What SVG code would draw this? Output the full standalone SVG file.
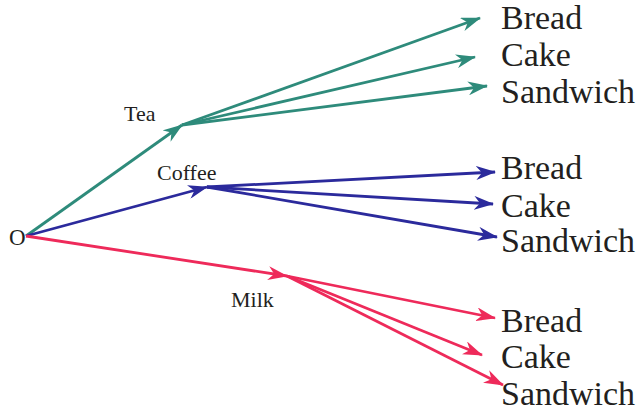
<svg xmlns="http://www.w3.org/2000/svg" width="638" height="411" viewBox="0 0 638 411">
<style>
text{font-family:"Liberation Serif","Times New Roman",serif;fill:#231f20}
.big{font-size:34px}
.small{font-size:22px}
.t{stroke:#2e8b7b;stroke-width:2.8;fill:none;marker-end:url(#mt)}
.b{stroke:#2b2a9c;stroke-width:2.8;fill:none;marker-end:url(#mb)}
.r{stroke:#ee2a5a;stroke-width:2.8;fill:none;marker-end:url(#mr)}
</style>
<defs>
<marker id="mt" viewBox="0 0 20 14" refX="19" refY="7" markerWidth="20" markerHeight="14" markerUnits="userSpaceOnUse" orient="auto"><path d="M0,0 L20,7 L0,14 L6,7 z" fill="#2e8b7b"/></marker>
<marker id="mb" viewBox="0 0 20 14" refX="19" refY="7" markerWidth="20" markerHeight="14" markerUnits="userSpaceOnUse" orient="auto"><path d="M0,0 L20,7 L0,14 L6,7 z" fill="#2b2a9c"/></marker>
<marker id="mr" viewBox="0 0 20 14" refX="19" refY="7" markerWidth="20" markerHeight="14" markerUnits="userSpaceOnUse" orient="auto"><path d="M0,0 L20,7 L0,14 L6,7 z" fill="#ee2a5a"/></marker>
</defs>
<g id="connectors">
<path class="t" d="M26,236 L182,125"/>
<path class="t" d="M182,125 L480,18"/>
<path class="t" d="M182,125 L475,57"/>
<path class="t" d="M182,125 L487,86"/>
<path class="b" d="M26,236 L207,187"/>
<path class="b" d="M207,187 L495,172"/>
<path class="b" d="M207,187 L493,204"/>
<path class="b" d="M207,187 L497,237"/>
<path class="r" d="M26,236 L287,276"/>
<path class="r" d="M287,276 L495,318"/>
<path class="r" d="M287,276 L482,355"/>
<path class="r" d="M287,276 L503,385"/>
</g>
<g id="node-O"><text class="small" x="9" y="245" style="font-size:23px">O</text></g>
<g id="node-Tea"><text class="small" x="124" y="121">Tea</text></g>
<g id="node-Coffee"><text class="small" x="157" y="180">Coffee</text></g>
<g id="node-Milk"><text class="small" x="231" y="307">Milk</text></g>
<g id="node-tea-bread"><text class="big" x="501" y="29">Bread</text></g>
<g id="node-tea-cake"><text class="big" x="501" y="66">Cake</text></g>
<g id="node-tea-sandwich"><text class="big" x="501" y="103">Sandwich</text></g>
<g id="node-coffee-bread"><text class="big" x="501" y="179">Bread</text></g>
<g id="node-coffee-cake"><text class="big" x="501" y="217">Cake</text></g>
<g id="node-coffee-sandwich"><text class="big" x="501" y="252">Sandwich</text></g>
<g id="node-milk-bread"><text class="big" x="501" y="332">Bread</text></g>
<g id="node-milk-cake"><text class="big" x="501" y="368">Cake</text></g>
<g id="node-milk-sandwich"><text class="big" x="501" y="405">Sandwich</text></g>
</svg>
